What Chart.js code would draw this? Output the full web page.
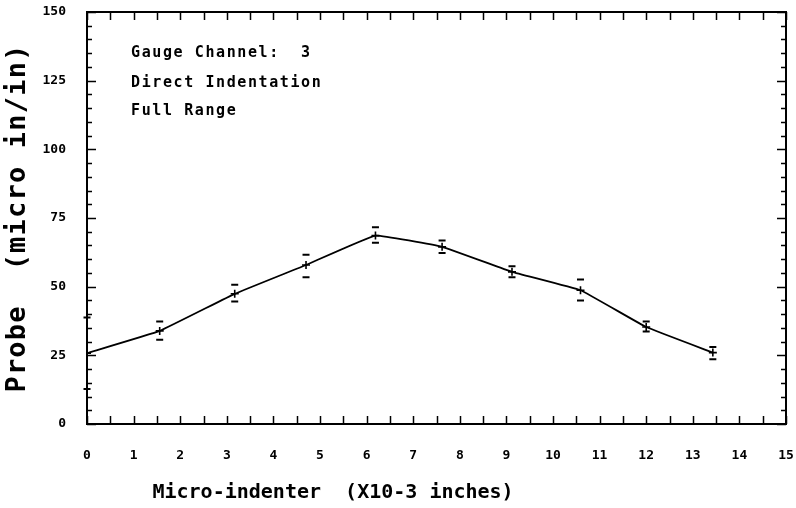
<!DOCTYPE html>
<html>
<head>
<meta charset="utf-8">
<script src="https://cdn.jsdelivr.net/npm/chart.js@4.4.1/dist/chart.umd.min.js"></script>
<style>
  html, body { margin: 0; padding: 0; background: #fff; }
</style>
</head>
<body>
<canvas id="chart" width="796" height="508"></canvas>
<script>
// probe response vs. indenter position, with min/max band per position
var indenterPos = [0, 1.56, 3.17, 4.70, 6.19, 7.62, 9.12, 10.59, 12.0, 13.43];
var probeMean   = [25.8, 33.9, 47.4, 57.9, 68.6, 64.5, 55.4, 48.7, 35.3, 26.0];
var probeHigh   = [38.8, 37.3, 50.7, 61.6, 71.6, 66.8, 57.4, 52.6, 37.3, 28.0];
var probeLow    = [12.7, 30.7, 44.6, 53.4, 66.0, 62.3, 53.4, 45.0, 33.7, 23.6];
var notes = ['Gauge Channel:  3', 'Direct Indentation', 'Full Range'];
var xTitle = 'Micro-indenter  (X10-3 inches)';
var yTitle = 'Probe  (micro in/in)';

(function() {
  'use strict';

  var mono = "'DejaVu Sans Mono', monospace";
  var ink = '#000';

  var points = indenterPos.map(function(x, i) {
    return { x: x, y: probeMean[i] };
  });

  // tick label overhang would push the plot box in; keep it where layout puts it
  function noOverhang(s) {
    s.paddingTop = 0; s.paddingBottom = 0;
    s.paddingLeft = 0; s.paddingRight = 0;
  }

  // box, inward ticks on all four sides
  var framePlugin = {
    id: 'frame',
    afterDraw: function(chart) {
      var ctx = chart.ctx, a = chart.chartArea;
      var xs = chart.scales.x, ys = chart.scales.y;
      ctx.save();
      ctx.strokeStyle = ink;
      ctx.lineWidth = 2;
      ctx.strokeRect(a.left, a.top, a.right - a.left, a.bottom - a.top);

      ctx.lineWidth = 1.5;
      ctx.beginPath();
      for (var v = 0; v <= 15; v += 0.5) {
        var px = Math.round(xs.getPixelForValue(v)) + 0.5;
        ctx.moveTo(px, a.bottom); ctx.lineTo(px, a.bottom - 8);
        ctx.moveTo(px, a.top); ctx.lineTo(px, a.top + 8);
      }
      for (var w = 0; w <= 150; w += 5) {
        var py = Math.round(ys.getPixelForValue(w)) + 0.5;
        var len = (w % 25 === 0) ? 9 : 5;
        ctx.moveTo(a.left, py); ctx.lineTo(a.left + len, py);
        ctx.moveTo(a.right, py); ctx.lineTo(a.right - len, py);
      }
      ctx.stroke();

      // axis titles and the run notes
      ctx.fillStyle = ink;
      ctx.textAlign = 'center';
      ctx.textBaseline = 'middle';
      ctx.font = 'bold 20px ' + mono;
      ctx.fillText(xTitle, a.left + (a.right - a.left) * 0.352, a.bottom + 69);

      ctx.save();
      ctx.translate(18, (a.top + a.bottom) / 2);
      ctx.rotate(-Math.PI / 2);
      ctx.font = 'bold 27px ' + mono;
      ctx.letterSpacing = '1.2px';
      ctx.fillText(yTitle, 0, 0);
      ctx.restore();

      ctx.textAlign = 'left';
      ctx.font = 'bold 15px ' + mono;
      ctx.letterSpacing = '1.6px';
      var rows = [41, 71, 99];
      notes.forEach(function(t, i) {
        ctx.fillText(t, a.left + 44, a.top + rows[i]);
      });
      ctx.restore();
    }
  };

  // caps at the high and low reading of each position
  var capsPlugin = {
    id: 'caps',
    afterDatasetsDraw: function(chart) {
      var ctx = chart.ctx;
      var ys = chart.scales.y;
      var meta = chart.getDatasetMeta(0);
      ctx.save();
      ctx.strokeStyle = ink;
      ctx.lineWidth = 2;
      ctx.beginPath();
      meta.data.forEach(function(el, i) {
        var hi = ys.getPixelForValue(probeHigh[i]);
        var lo = ys.getPixelForValue(probeLow[i]);
        ctx.moveTo(el.x - 3.5, hi); ctx.lineTo(el.x + 3.5, hi);
        ctx.moveTo(el.x - 3.5, lo); ctx.lineTo(el.x + 3.5, lo);
      });
      ctx.stroke();
      ctx.restore();
    }
  };

  new Chart(document.getElementById('chart'), {
    type: 'line',
    data: {
      datasets: [{
        data: points,
        borderColor: ink,
        borderWidth: 1.8,
        tension: 0.08,
        pointStyle: 'cross',
        pointRadius: 4,
        pointBorderWidth: 1.6,
        pointBorderColor: ink,
        backgroundColor: ink,
        fill: false
      }]
    },
    options: {
      responsive: false,
      animation: false,
      layout: { padding: { top: 12, right: 10, left: 0, bottom: 0 } },
      plugins: {
        legend: { display: false },
        tooltip: { enabled: false }
      },
      scales: {
        x: {
          type: 'linear',
          min: 0,
          max: 15,
          grid: { display: false, drawTicks: false },
          border: { display: false },
          ticks: {
            stepSize: 1,
            padding: 24,
            color: ink,
            font: { family: mono, size: 13, weight: 'bold' }
          },
          afterFit: function(s) { s.height = 84; noOverhang(s); }
        },
        y: {
          min: 0,
          max: 150,
          grid: { display: false, drawTicks: false },
          border: { display: false },
          ticks: {
            stepSize: 25,
            padding: 21,
            color: ink,
            font: { family: mono, size: 13, weight: 'bold' }
          },
          afterFit: function(s) { s.width = 87; noOverhang(s); }
        }
      }
    },
    plugins: [capsPlugin, framePlugin]
  });
})();
</script>
</body>
</html>
